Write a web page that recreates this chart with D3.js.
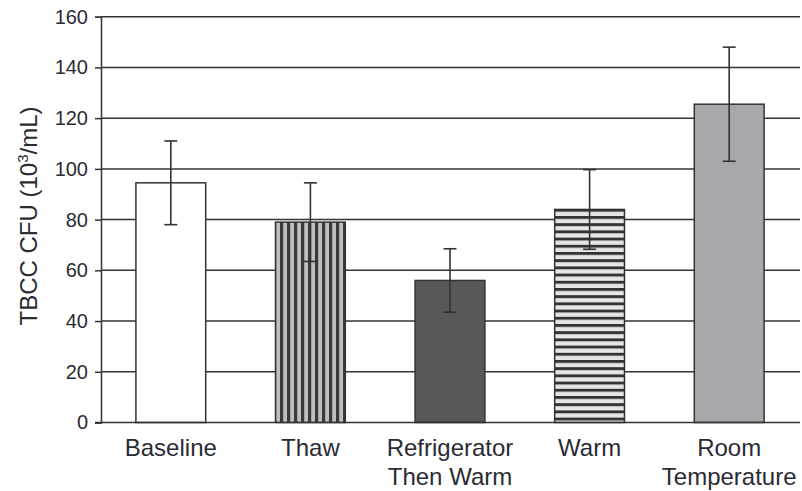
<!DOCTYPE html>
<html>
<head>
<meta charset="utf-8">
<script src="https://cdn.jsdelivr.net/npm/d3@7"></script>
<style>
  html, body { margin: 0; padding: 0; background: #fff; }
  svg { display: block; }
  text { font-family: "Liberation Sans", Arial, Helvetica, sans-serif; fill: #2b2b33; }
</style>
</head>
<body>
<svg id="chart" width="802" height="491"></svg>
<script>
// Storage condition groups (two-line labels)
const categories = ["Baseline", "Thaw", "Refrigerator Then Warm", "Warm", "Room Temperature"];
const labelLines = [["Baseline"], ["Thaw"], ["Refrigerator", "Then Warm"], ["Warm"], ["Room", "Temperature"]];
// Mean TBCC CFU (10^3/mL) and error bar half-widths
const means = [94.5, 79, 56, 84, 125.5];
const errors = [16.5, 15.5, 12.5, 15.7, 22.5];
// Fill style per bar
const fills = ["#ffffff", "url(#vstripe)", "#58585b", "url(#hstripe)", "#a7a8ab"];
const yTicks = [0, 20, 40, 60, 80, 100, 120, 140, 160];

const svg = d3.select("#chart");
const ink = "#333333";

const x = d3.scaleBand().domain(categories).range([101, 799]).paddingInner(0.5).paddingOuter(0.25);
const y = d3.scaleLinear().domain([0, 160]).range([422.5, 16.7]);

// Hatch patterns
const defs = svg.append("defs");
const vp = defs.append("pattern").attr("id", "vstripe").attr("patternUnits", "userSpaceOnUse")
  .attr("width", 7).attr("height", 7);
vp.append("rect").attr("width", 7).attr("height", 7).attr("fill", "#bfbfc1");
vp.append("rect").attr("x", 0).attr("width", 3.2).attr("height", 7).attr("fill", "#3a3a3d");

const hp = defs.append("pattern").attr("id", "hstripe").attr("patternUnits", "userSpaceOnUse")
  .attr("width", 7.2).attr("height", 7.2);
hp.append("rect").attr("width", 7.2).attr("height", 7.2).attr("fill", "#e6e6e6");
hp.append("rect").attr("y", 0).attr("width", 7.2).attr("height", 2.9).attr("fill", "#333336");

// Horizontal grid lines
svg.append("g").selectAll("line").data(yTicks.filter(d => d > 0)).join("line")
  .attr("x1", 101).attr("x2", 800)
  .attr("y1", d => y(d)).attr("y2", d => y(d))
  .attr("stroke", ink).attr("stroke-width", 1.5);

// Y axis
const yAxis = svg.append("g").attr("transform", "translate(101,0)")
  .call(d3.axisLeft(y).tickValues(yTicks).tickSize(6).tickPadding(7));
yAxis.select(".domain").attr("stroke", ink).attr("stroke-width", 1.5);
yAxis.selectAll(".tick line").attr("stroke", ink).attr("stroke-width", 1.5);
yAxis.selectAll(".tick text").attr("font-size", 20).attr("fill", "#2b2b33")
  .style("font-family", "'Liberation Sans', Arial, sans-serif");

// Bars
svg.append("g").selectAll("rect").data(categories).join("rect")
  .attr("x", d => x(d))
  .attr("width", x.bandwidth())
  .attr("y", (d, i) => y(means[i]))
  .attr("height", (d, i) => y(0) - y(means[i]))
  .attr("fill", (d, i) => fills[i])
  .attr("stroke", ink).attr("stroke-width", 1.5);

// Baseline (x axis)
svg.append("line").attr("x1", 95).attr("x2", 800).attr("y1", y(0)).attr("y2", y(0))
  .attr("stroke", ink).attr("stroke-width", 1.5);

// Error bars
const eb = svg.append("g").attr("stroke", ink).attr("stroke-width", 1.6);
categories.forEach((c, i) => {
  const cx = x(c) + x.bandwidth() / 2;
  const hi = y(means[i] + errors[i]), lo = y(means[i] - errors[i]);
  eb.append("line").attr("x1", cx).attr("x2", cx).attr("y1", hi).attr("y2", lo);
  eb.append("line").attr("x1", cx - 6.5).attr("x2", cx + 6.5).attr("y1", hi).attr("y2", hi);
  eb.append("line").attr("x1", cx - 6.5).attr("x2", cx + 6.5).attr("y1", lo).attr("y2", lo);
});

// Category labels
const lab = svg.append("g");
categories.forEach((c, i) => {
  const cx = x(c) + x.bandwidth() / 2;
  const t = lab.append("text").attr("text-anchor", "middle").attr("font-size", 24);
  labelLines[i].forEach((ln, k) => {
    t.append("tspan").attr("x", cx).attr("y", 456 + k * 29).text(ln);
  });
});

// Y axis title
const yt = svg.append("text").attr("transform", "translate(37,216) rotate(-90)")
  .attr("text-anchor", "middle").attr("font-size", 24);
yt.append("tspan").text("TBCC CFU (10");
yt.append("tspan").attr("font-size", 15).attr("dy", -9).text("3");
yt.append("tspan").attr("dy", 9).text("/mL)");
</script>
</body>
</html>
